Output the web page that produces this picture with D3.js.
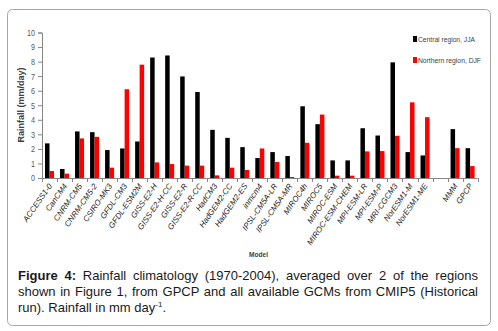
<!DOCTYPE html>
<html>
<head>
<meta charset="utf-8">
<script src="https://cdn.jsdelivr.net/npm/d3@7"></script>
<style>
  body { margin: 0; background: #fff; }
  svg { display: block; }
</style>
</head>
<body>
<div class="vis"></div>
<script>
var w = 498;
var h = 331;

// Models (blank slot before the multi-model mean)
var models = ["ACCESS1-0", "CanCM4", "CNRM-CM5", "CNRM-CM5-2", "CSIRO-MK3", "GFDL-CM3", "GFDL-ESM2M",
    "GISS-E2-H", "GISS-E2-H-CC", "GISS-E2-R", "GISS-E2-R-CC", "HadCM3", "HadGEM2-CC", "HadGEM2-ES",
    "inmcm4", "IPSL-CM5A-LR", "IPSL-CM5A-MR", "MIROC4h", "MIROC5", "MIROC-ESM", "MIROC-ESM-CHEM",
    "MPI-ESM-LR", "MPI-ESM-P", "MRI-CGCM3", "NorESM1-M", "NorESM1-ME", " ", "MMM", "GPCP"];

var central = [2.38, 0.62, 3.2, 3.15, 1.92, 2.03, 2.51, 8.28, 8.42, 6.98, 5.91, 3.31, 2.76, 2.12,
    1.37, 1.78, 1.51, 4.93, 3.7, 1.21, 1.21, 3.42, 2.92, 7.95, 1.78, 1.55, null, 3.36, 2.05];
var northern = [0.48, 0.3, 2.72, 2.83, 0.71, 6.1, 7.79, 1.07, 0.96, 0.85, 0.85, 0.18, 0.71, 0.55,
    2.03, 1.1, 0.07, 2.42, 4.36, 0.16, 0.16, 1.83, 1.85, 2.9, 5.2, 4.18, null, 2.05, 0.82];

var seriesNames = ["Central region, JJA", "Northern region, DJF"];
var seriesColors = ["#000000", "#ff0000"];
var yTicks = [0, 1, 2, 3, 4, 5, 6, 7, 8, 9, 10];

var sans = "'Liberation Sans', Arial, sans-serif";

var svg = d3.select(".vis")
    .append("svg")
    .attr("width", w)
    .attr("height", h);

// Outer rounded frame
svg.append("rect")
    .attr("x", 7.5).attr("y", 9.5)
    .attr("width", 483).attr("height", 316)
    .attr("rx", 5)
    .attr("fill", "#fff")
    .attr("stroke", "#a6a6a6");

var plotLeft = 42, plotRight = 477.6, plotTop = 32.5, plotBottom = 178;

var x = d3.scaleBand()
    .domain(models)
    .range([plotLeft, plotRight])
    .paddingInner(0.4)
    .paddingOuter(0.2);

var x1 = d3.scaleBand()
    .domain([0, 1])
    .range([0, x.bandwidth()]);

var y = d3.scaleLinear()
    .domain([0, 10])
    .range([plotBottom, plotTop]);

// Bars
var rows = models.map((m, i) => ({ model: m, values: [central[i], northern[i]] }));

var groups = svg.selectAll("g.group")
    .data(rows)
    .enter()
    .append("g")
    .attr("class", "group")
    .attr("transform", d => "translate(" + x(d.model) + ",0)");

groups.selectAll("rect")
    .data(d => d.values.map((v, k) => ({ v: v, k: k })).filter(e => e.v != null))
    .enter()
    .append("rect")
    .attr("x", d => x1(d.k))
    .attr("width", x1.bandwidth())
    .attr("y", d => y(d.v))
    .attr("height", d => y(0) - y(d.v))
    .attr("fill", d => seriesColors[d.k]);

// Y axis
var yAxis = svg.append("g")
    .attr("transform", "translate(" + plotLeft + ",0)")
    .call(d3.axisLeft(y).tickValues(yTicks).tickSize(4).tickPadding(3));
yAxis.select(".domain").attr("stroke", "#868686");
yAxis.selectAll(".tick line").attr("stroke", "#868686");
yAxis.selectAll(".tick text")
    .attr("fill", "#595959")
    .style("font-family", sans)
    .style("font-size", "9px")
    .attr("textLength", d => d >= 10 ? 8 : 4)
    .attr("lengthAdjust", "spacingAndGlyphs");

// X axis: line plus ticks between categories
svg.append("line")
    .attr("x1", plotLeft).attr("x2", plotRight)
    .attr("y1", plotBottom + 0.5).attr("y2", plotBottom + 0.5)
    .attr("stroke", "#868686");

svg.selectAll("line.xtick")
    .data(d3.range(models.length + 1))
    .enter()
    .append("line")
    .attr("class", "xtick")
    .attr("x1", i => Math.round(plotLeft + i * x.step()) + 0.5)
    .attr("x2", i => Math.round(plotLeft + i * x.step()) + 0.5)
    .attr("y1", plotBottom)
    .attr("y2", plotBottom + 4)
    .attr("stroke", "#868686");

svg.selectAll("text.xlabel")
    .data(models)
    .enter()
    .append("text")
    .attr("class", "xlabel")
    .attr("transform", d => "translate(" + (x(d) + x.bandwidth() / 2 + 3) + "," + (plotBottom + 8) + ") rotate(-55)")
    .attr("text-anchor", "end")
    .style("font-family", sans)
    .style("font-style", "italic")
    .style("font-size", "8px")
    .attr("fill", "#222")
    .text(d => d);

// Axis titles
svg.append("text")
    .attr("transform", "translate(24,105) rotate(-90)")
    .attr("text-anchor", "middle")
    .style("font-family", sans)
    .style("font-weight", "bold")
    .style("font-size", "9px")
    .attr("fill", "#404040")
    .text("Rainfall (mm/day)");

svg.append("text")
    .attr("x", 249).attr("y", 257)
    .style("font-family", sans)
    .style("font-weight", "bold")
    .style("font-size", "8px")
    .attr("fill", "#404040")
    .attr("textLength", 19)
    .attr("lengthAdjust", "spacingAndGlyphs")
    .text("Model");

// Legend
var legend = svg.selectAll("g.legend")
    .data(seriesNames)
    .enter()
    .append("g")
    .attr("class", "legend")
    .attr("transform", (d, i) => "translate(413," + (39 + i * 21) + ")");

legend.append("rect")
    .attr("x", 0).attr("y", -3)
    .attr("width", 4).attr("height", 6)
    .attr("fill", (d, i) => seriesColors[i]);

legend.append("text")
    .attr("x", 5).attr("y", 3)
    .style("font-family", sans)
    .style("font-size", "8px")
    .attr("fill", "#404040")
    .attr("textLength", (d, i) => i === 0 ? 57 : 63)
    .attr("lengthAdjust", "spacingAndGlyphs")
    .text(d => d);

// Caption
var cap = svg.append("g")
    .style("font-family", sans)
    .style("font-size", "13px")
    .attr("fill", "#1a1a1a");

var line1 = cap.append("text").attr("x", 18).attr("y", 280);
line1.append("tspan").style("font-weight", "bold").text("Figure 4:");
line1.append("tspan").text(" Rainfall climatology (1970-2004), averaged over 2 of the regions");

var line2 = cap.append("text").attr("x", 18).attr("y", 296)
    .text("shown in Figure 1, from GPCP and all available GCMs from CMIP5 (Historical");

var line3 = cap.append("text").attr("x", 18).attr("y", 312);
line3.append("tspan").text("run). Rainfall in mm day");
line3.append("tspan").attr("dy", -5).style("font-size", "8px").text("-1");
line3.append("tspan").attr("dy", 5).text(".");

// Justify the first two caption lines by stretching word spacing
[line1, line2].forEach(function (t) {
    var width = t.node().getComputedTextLength();
    var spaces = t.text().split(" ").length - 1;
    var extra = (478 - 18 - width) / spaces;
    if (extra > 0) t.style("word-spacing", extra + "px");
});
</script>
</body>
</html>
